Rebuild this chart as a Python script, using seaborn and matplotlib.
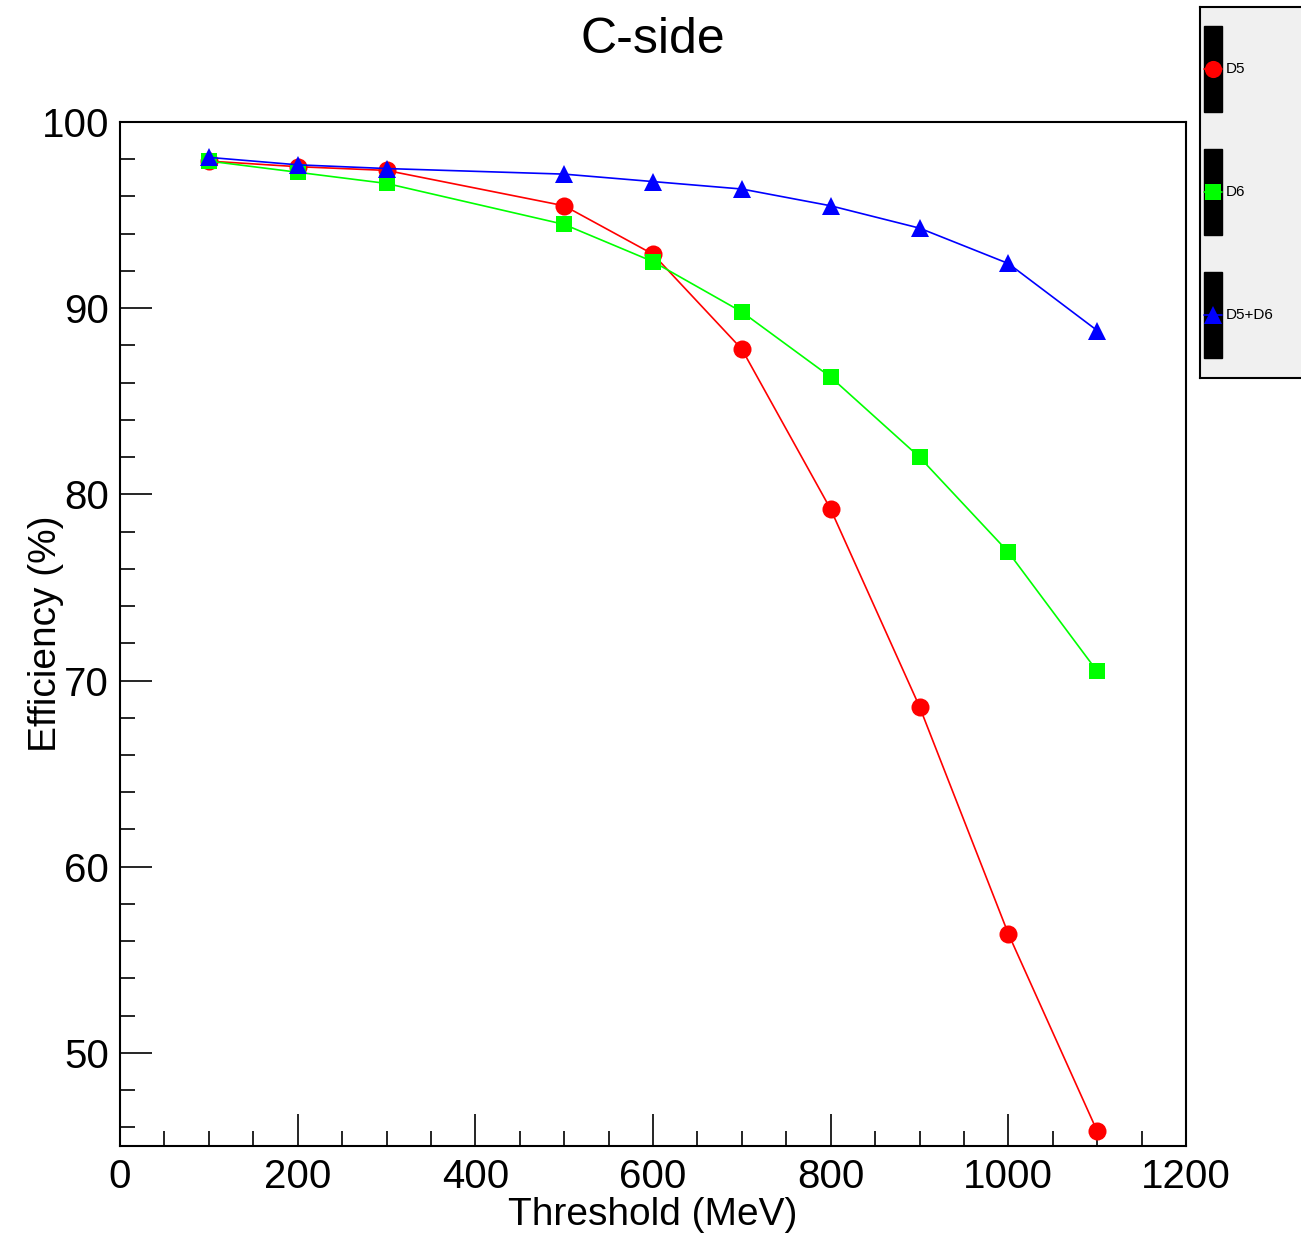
import numpy as np
import pandas as pd
import matplotlib
matplotlib.use('Agg')
import matplotlib.pyplot as plt
from matplotlib.patches import Rectangle
from matplotlib.ticker import MultipleLocator, FixedLocator
import seaborn as sns

# ── Data ──
THRESHOLD = [100, 200, 300, 500, 600, 700, 800, 900, 1000, 1100]
EFF_D5 = [97.9, 97.6, 97.4, 95.5, 92.9, 87.8, 79.2, 68.6, 56.4, 45.8]
EFF_D6 = [97.9, 97.3, 96.7, 94.5, 92.5, 89.8, 86.3, 82.0, 76.9, 70.5]
EFF_D56 = [98.1, 97.7, 97.5, 97.2, 96.8, 96.4, 95.5, 94.3, 92.4, 88.8]
LABELS = ['D5', 'D6', 'D5+D6']

SERIES = [
    (LABELS[0], EFF_D5, '#ff0000', 'o', 13),
    (LABELS[1], EFF_D6, '#00ff00', 's', 12),
    (LABELS[2], EFF_D56, '#0000ff', '^', 13),
]

sns.set_style('ticks')
plt.rcParams['font.family'] = ['Liberation Sans', 'DejaVu Sans']
plt.rcParams.update({'text.color': 'black', 'axes.labelcolor': 'black',
                     'xtick.color': 'black', 'ytick.color': 'black'})

W, H = 1301, 1233
fig = plt.figure(figsize=(W / 100, H / 100), dpi=100)
ax = fig.add_axes([120 / W, 1 - 1146 / H, (1186 - 120) / W, (1146 - 122) / H])

for name, vals, col, mk, ms in SERIES:
    df = pd.DataFrame({'Threshold': THRESHOLD, 'Efficiency': vals})
    sns.lineplot(data=df, x='Threshold', y='Efficiency', ax=ax, color=col,
                 marker=mk, markersize=ms, markeredgewidth=0, linewidth=1.2,
                 estimator=None, sort=False, legend=False)

ax.set_xlim(0, 1200)
ax.set_ylim(45, 100)
ax.xaxis.set_major_locator(MultipleLocator(200))
ax.xaxis.set_minor_locator(MultipleLocator(50))
ax.yaxis.set_major_locator(FixedLocator([50, 60, 70, 80, 90, 100]))
ax.yaxis.set_minor_locator(MultipleLocator(2))
ax.tick_params(which='both', direction='in', top=False, right=False,
               width=1.2, color='black', labelcolor='black', labelsize=29)
ax.tick_params(which='major', length=23)
ax.tick_params(which='minor', length=11)
ax.tick_params(axis='x', which='major', pad=9)
ax.tick_params(axis='y', which='major', pad=8)
for sp in ax.spines.values():
    sp.set_visible(True)
    sp.set_color('black')
    sp.set_linewidth(1.5)

ax.set_xlabel('Threshold (MeV)', fontsize=28, color='black')
ax.set_ylabel('Efficiency (%)', fontsize=28, color='black')
ax.xaxis.set_label_coords(0.5, -0.05)
ax.yaxis.set_label_coords(-0.053, 0.5)
ax.grid(False)

fig.text(653 / W, 1 - 40 / H, 'C-side', fontsize=36, ha='center', va='center',
         color='black')

# ── Legend box (ROOT style) ──
lax = fig.add_axes([1200 / W, 1 - 378 / H, 120 / W, 371 / H])
lax.set_facecolor('#f0f0f0')
lax.set_xlim(0, 120)
lax.set_ylim(371, 0)
lax.set_xticks([])
lax.set_yticks([])
for sp in lax.spines.values():
    sp.set_color('black')
    sp.set_linewidth(1.5)
for i, (name, vals, col, mk, ms) in enumerate(SERIES):
    yc = 62 + i * 123
    lax.add_patch(Rectangle((4, yc - 43), 18, 86, color='black', zorder=2))
    lax.plot([4, 22], [yc, yc], color=col, linewidth=1.2, zorder=3)
    lax.plot([13], [yc], marker=mk, color=col, markersize=ms * 0.95,
             markeredgewidth=0, zorder=4)
    lax.text(26, yc, name, fontsize=11, ha='left', va='center', color='black',
             zorder=5)

fig.savefig('out.png', dpi=100)
